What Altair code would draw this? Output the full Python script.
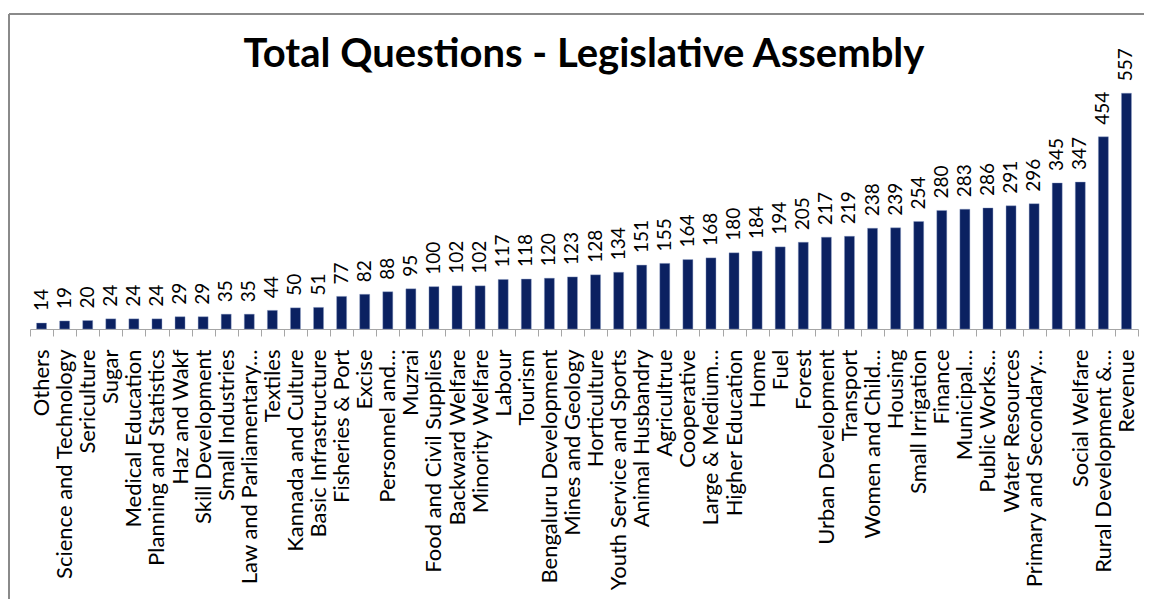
import altair as alt
import pandas as pd

chart_title = "Total Questions - Legislative Assembly"

departments = [
    "Others", "Science and Technology", "Sericulture", "Sugar", "Medical Education",
    "Planning and Statistics", "Haz and Wakf", "Skill Development", "Small Industries",
    "Law and Parliamentary…", "Textiles", "Kannada and Culture", "Basic Infrastructure",
    "Fisheries & Port", "Excise", "Personnel and…", "Muzrai", "Food and Civil Supplies",
    "Backward Welfare", "Minority Welfare", "Labour", "Tourism", "Bengaluru Development",
    "Mines and Geology", "Horticulture", "Youth Service and Sports", "Animal Husbandry",
    "Agricultrue", "Cooperative", "Large & Medium…", "Higher Education", "Home", "Fuel",
    "Forest", "Urban Development", "Transport", "Women and Child…", "Housing",
    "Small Irrigation", "Finance", "Municipal…", "Public Works…", "Water Resources",
    "Primary and Secondary…", " ", "Social Welfare", "Rural Development &…", "Revenue",
]
questions = [
    14, 19, 20, 24, 24, 24, 29, 29, 35, 35, 44, 50, 51, 77, 82, 88, 95, 100, 102, 102,
    117, 118, 120, 123, 128, 134, 151, 155, 164, 168, 180, 184, 194, 205, 217, 219,
    238, 239, 254, 280, 283, 286, 291, 296, 345, 347, 454, 557,
]

df = pd.DataFrame({"dept": departments, "questions": questions})

W, H = 1108, 254
PAD = {"left": 22, "top": 67, "right": 6, "bottom": 270}

x_enc = alt.X(
    "dept:N",
    sort=None,
    scale=alt.Scale(paddingInner=0, paddingOuter=0),
    axis=alt.Axis(
        title=None,
        labelAngle=270,
        labelAlign="right",
        labelBaseline="middle",
        labelFont="Lato",
        labelFontSize=22,
        labelColor="#000000",
        labelPadding=13,
        labelOverlap=False,
        labelLimit=400,
        tickBand="extent",
        tickSize=7,
        tickColor="#a6a6a6",
        domainColor="#a6a6a6",
        domainWidth=1,
    ),
)
y_enc = alt.Y("questions:Q", scale=alt.Scale(domain=[0, 600], nice=False), axis=None)

bars = alt.Chart(df).mark_bar(size=10, color="#0b2161", stroke="#8ea0c8", strokeWidth=0.4).encode(
    x=x_enc, y=y_enc
)
labels = alt.Chart(df).mark_text(
    angle=270, align="left", baseline="middle", dx=12, font="Lato", fontSize=19, color="#000000"
).encode(x=x_enc, y=y_enc, text="questions:Q")

title_mark = alt.Chart(pd.DataFrame({"t": [chart_title]})).mark_text(
    font="Lato", fontSize=40, fontWeight="bold", color="#000000",
    align="center", baseline="alphabetic",
).encode(x=alt.value(W / 2), y=alt.value(-8), text="t:N")

frame_top = alt.Chart(df).mark_rule(color="#8a8a8a", strokeWidth=2).encode(
    x=alt.value(-21), x2=alt.value(W + PAD["right"]), y=alt.value(-61)
)
frame_left = alt.Chart(df).mark_rule(color="#8a8a8a", strokeWidth=2).encode(
    x=alt.value(-21), y=alt.value(-61), y2=alt.value(H + PAD["bottom"])
)

chart = (
    alt.layer(bars, labels, title_mark, frame_top, frame_left)
    .properties(
        width=W,
        height=H,
        padding=PAD,
        autosize=alt.AutoSizeParams(type="none"),
        view=alt.ViewBackground(stroke="transparent", strokeWidth=0, fill="transparent"),
    )
    .configure_view(stroke=None, strokeWidth=0)
    .configure(background="#ffffff", style={"cell": {"stroke": "transparent", "strokeWidth": 0}})
)

chart.save("out.html", embed_options={"renderer": "svg", "actions": False})
